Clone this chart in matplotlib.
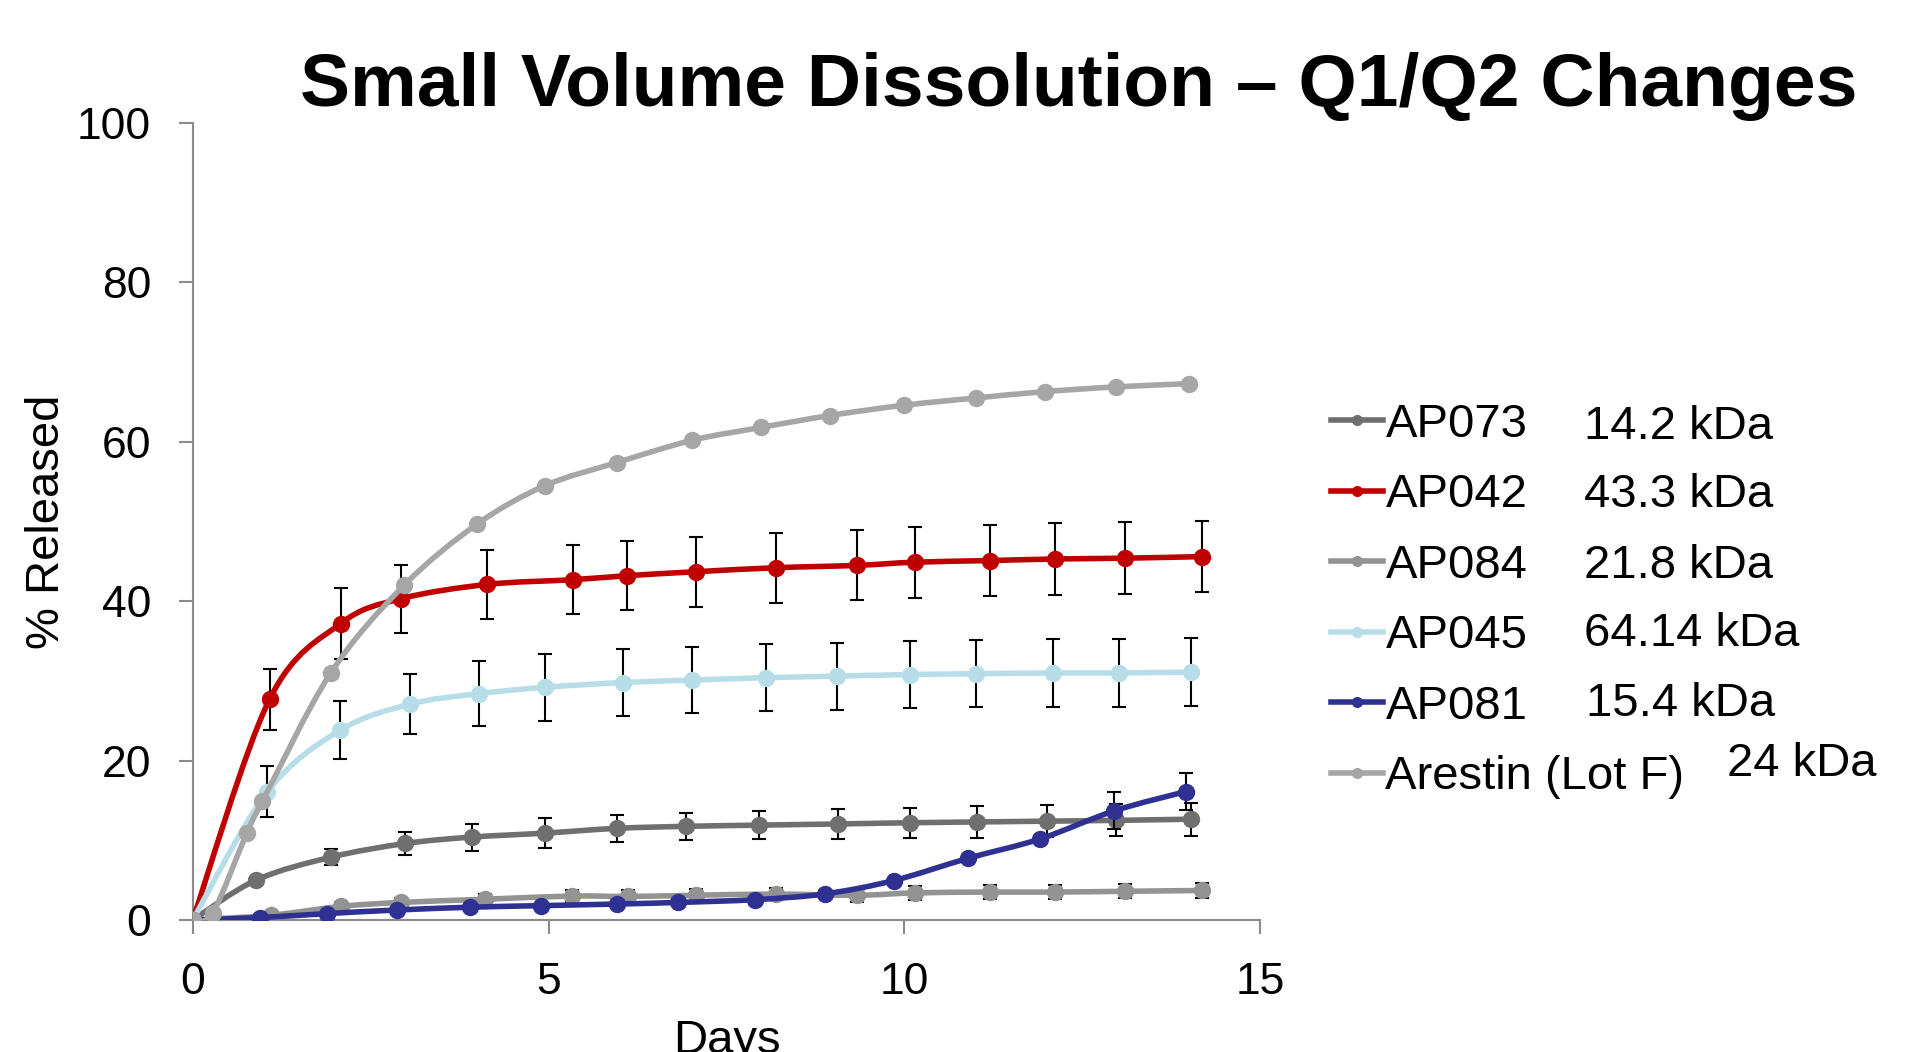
import numpy as np
import matplotlib.pyplot as plt
from matplotlib.path import Path
from matplotlib.patches import PathPatch

plt.rcParams['font.family'] = ['Liberation Sans', 'DejaVu Sans']

# data
ap073_x = [0, 0.89, 1.95, 2.99, 3.92, 4.95, 5.96, 6.93, 7.95, 9.07, 10.08, 11.02, 12.0, 12.98, 14.03]
ap073_y = [0, 5.0, 7.9, 9.6, 10.4, 10.9, 11.5, 11.75, 11.9, 12.05, 12.2, 12.3, 12.4, 12.5, 12.65]
ap073_e = [np.nan, np.nan, 1.05, 1.4, 1.7, 1.9, 1.7, 1.7, 1.8, 1.9, 1.9, 2.0, 2.0, 2.0, 2.05]

ap042_x = [0, 1.08, 2.08, 2.92, 4.13, 5.34, 6.1, 7.07, 8.19, 9.34, 10.15, 11.2, 12.11, 13.1, 14.18]
ap042_y = [0, 27.7, 37.2, 40.3, 42.1, 42.7, 43.2, 43.7, 44.2, 44.5, 44.9, 45.1, 45.3, 45.4, 45.6]
ap042_e = [np.nan, 3.8, 4.4, 4.3, 4.35, 4.35, 4.35, 4.4, 4.4, 4.4, 4.45, 4.45, 4.5, 4.5, 4.5]

ap084_x = [0, 1.1, 2.08, 2.92, 4.11, 5.33, 6.12, 7.07, 8.19, 9.34, 10.15, 11.2, 12.11, 13.1, 14.18]
ap084_y = [0, 0.6, 1.7, 2.2, 2.6, 3.0, 2.95, 3.1, 3.25, 3.1, 3.4, 3.5, 3.5, 3.6, 3.7]
ap084_e = [np.nan, np.nan, 0.5, 0.6, 0.7, 0.7, 0.75, 0.8, 0.8, 0.8, 0.85, 0.9, 0.9, 0.9, 0.95]

ap045_x = [0, 1.05, 2.07, 3.06, 4.02, 4.95, 6.05, 7.02, 8.05, 9.05, 10.08, 11.01, 12.09, 13.01, 14.02]
ap045_y = [0, 16.1, 23.8, 27.1, 28.4, 29.2, 29.8, 30.1, 30.4, 30.6, 30.8, 30.9, 31.0, 31.0, 31.1]
ap045_e = [np.nan, 3.2, 3.65, 3.75, 4.1, 4.2, 4.15, 4.15, 4.2, 4.2, 4.2, 4.2, 4.25, 4.25, 4.25]

ap081_x = [0, 0.95, 1.88, 2.87, 3.9, 4.9, 5.96, 6.82, 7.9, 8.88, 9.85, 10.89, 11.91, 12.95, 13.95]
ap081_y = [0, 0.3, 0.8, 1.25, 1.6, 1.8, 2.0, 2.2, 2.55, 3.27, 4.95, 7.73, 10.18, 13.7, 16.1]
ap081_e = [np.nan] * 13 + [2.3, 2.35]

arestin_x = [0, 0.28, 0.76, 0.98, 1.94, 2.97, 4.0, 4.95, 5.96, 7.02, 7.98, 8.95, 10.0, 11.0, 11.97, 12.98, 14.0]
arestin_y = [0, 0.9, 10.9, 14.9, 31.0, 42.0, 49.7, 54.5, 57.4, 60.2, 61.8, 63.3, 64.6, 65.5, 66.3, 66.9, 67.3]

names = ['AP073', 'AP042', 'AP084', 'AP045', 'AP081', 'Arestin (Lot F)']
kda = ['14.2 kDa', '43.3 kDa', '21.8 kDa', '64.14 kDa', '15.4 kDa', '24 kDa']
colors = ['#6F6F6F', '#C00000', '#939393', '#B7DEE8', '#2E3192', '#A6A6A6']


def smooth_path(x, y):
    # excel style smoothed line as cubic bezier segments
    p = np.column_stack([x, y]).astype(float)
    n = len(p)
    verts = [p[0]]
    codes = [Path.MOVETO]
    for i in range(n - 1):
        p0 = p[i - 1] if i > 0 else p[i]
        p3 = p[i + 2] if i + 2 < n else p[i + 1]
        c1 = p[i] + (p[i + 1] - p0) / 6
        c2 = p[i + 1] - (p3 - p[i]) / 6
        verts += [c1, c2, p[i + 1]]
        codes += [Path.CURVE4] * 3
    return Path(verts, codes)


fig = plt.figure(figsize=(19.27, 10.52), dpi=100)
ax = fig.add_axes([0.100, 0.1255, 0.554, 0.7575])

series = [
    (ap073_x, ap073_y, ap073_e),
    (ap042_x, ap042_y, ap042_e),
    (ap084_x, ap084_y, ap084_e),
    (ap045_x, ap045_y, ap045_e),
    (ap081_x, ap081_y, ap081_e),
    (arestin_x, arestin_y, None),
]

for k, (xs, ys, es) in enumerate(series):
    z = 3 + k
    ax.add_patch(PathPatch(smooth_path(xs, ys), fill=False, edgecolor=colors[k],
                           lw=4, zorder=z, capstyle='round'))
    if es is not None:
        ax.errorbar(xs, ys, yerr=es, fmt='none', ecolor='black', elinewidth=1.5,
                    capsize=4.7, capthick=1.5, zorder=z)
    ax.plot(xs, ys, 'o', color=colors[k], ms=11.5, zorder=z)
    ax.plot([], [], '-o', color=colors[k], lw=4, ms=7, label=names[k])

ax.set_xlim(0, 15)
ax.set_ylim(0, 100)
ax.set_xticks([0, 5, 10, 15])
ax.set_yticks(range(0, 101, 20))
for s in ['top', 'right']:
    ax.spines[s].set_visible(False)
for s in ['left', 'bottom']:
    ax.spines[s].set_color('#8A8A8A')
    ax.spines[s].set_linewidth(1.5)
ax.tick_params(axis='both', colors='#8A8A8A', labelcolor='black', width=1.5,
               length=10, labelsize=32, pad=20)
ax.set_ylabel('% Released', fontsize=34, labelpad=6)
ax.set_xlabel('Days', fontsize=34, labelpad=12)

fig.suptitle('Small Volume Dissolution \u2013 Q1/Q2 Changes', fontsize=54,
             fontweight='bold', x=0.56, y=0.918, va='center')

leg = ax.legend(loc='upper left', bbox_to_anchor=(0.681, 0.635),
                bbox_transform=fig.transFigure, frameon=False, fontsize=34,
                handlelength=1.1, handletextpad=0.05, labelspacing=0.56,
                borderaxespad=0)

kda_x = [0.822, 0.822, 0.822, 0.822, 0.823, 0.896]
kda_y = [0.594, 0.529, 0.462, 0.397, 0.331, 0.274]
for t, xx, yy in zip(kda, kda_x, kda_y):
    fig.text(xx, yy, t, fontsize=34, va='center', ha='left')

fig.savefig('out.png', dpi=100)
